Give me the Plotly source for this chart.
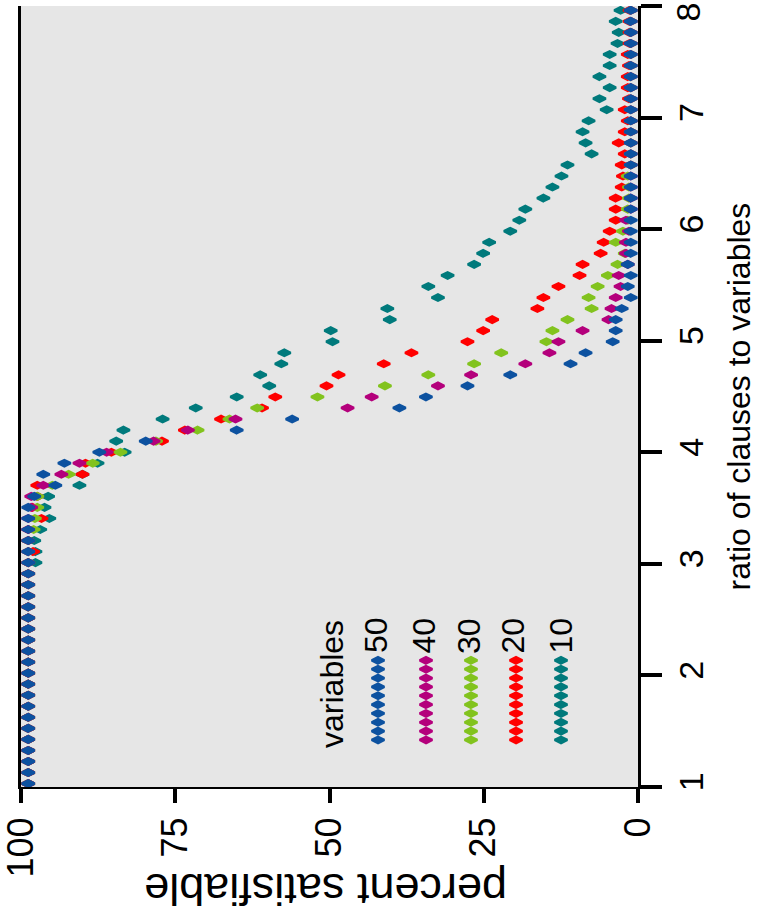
import plotly.graph_objects as go

# clause-to-variable ratio, 1.0 .. 8.0 in steps of 0.1
ratio = [i / 10 for i in range(10, 81)]

# percent of random instances that were satisfiable, one list per problem size
sat_50 = [100, 100, 100, 100, 100, 100, 100, 100, 100, 100,
          100, 100, 100, 100, 100, 100, 100, 100, 100, 100,
          100, 100, 100, 100, 100, 100, 99.0, 95.5, 97.5, 94.0,
          88.2, 80.5, 65.4, 56.2, 38.4, 34.0, 27.1, 20.0, 10.0, 7.5,
          3.0, 2.5, 2.5, 1.5, 0, 0.5, 0, 0.5, 0, 0,
          0, 0, 0, 0, 0, 0, 0, 0, 0, 0,
          0, 0, 0, 0, 0, 0, 0, 0, 0, 0, 0]
sat_40 = [100, 100, 100, 100, 100, 100, 100, 100, 100, 100,
          100, 100, 100, 100, 100, 100, 100, 100, 100, 100,
          100, 100, 100, 100, 100, 99.5, 99.5, 97.5, 94.5, 91.5,
          87.0, 79.2, 73.5, 65.6, 47.0, 43.0, 32.0, 26.5, 17.5, 13.5,
          12.0, 8.0, 3.7, 3.2, 2.5, 1.7, 2.0, 0.5, 0.8, 0.8,
          0.3, 0.8, 0, 0, 0, 0, 0, 0, 0, 0,
          0, 0, 0, 0, 0, 0, 0, 0, 0, 0, 0]
sat_30 = [100, 100, 100, 100, 100, 100, 100, 100, 100, 100,
          100, 100, 100, 100, 100, 100, 100, 100, 100, 100,
          100, 100, 100, 99.1, 98.9, 98.5, 98.5, 96.0, 93.3, 89.3,
          84.7, 78.8, 71.9, 66.6, 62.0, 52.0, 40.8, 33.6, 26.0, 21.5,
          14.0, 13.0, 10.5, 6.5, 7.0, 5.5, 3.8, 2.2, 1.0, 2.5,
          1.3, 0.5, 0.5, 0.3, 0.3, 0.5, 0, 0, 0, 0,
          0, 0, 0, 0, 0, 0, 0, 0, 0, 0, 0]
sat_20 = [100, 100, 100, 100, 100, 100, 100, 100, 100, 100,
          100, 100, 100, 100, 100, 100, 100, 100, 100, 100,
          100, 99.2, 100, 100, 97.8, 99.3, 98.5, 98.5, 91.0, 90.5,
          86.2, 77.8, 74.0, 68.0, 61.2, 59.0, 50.5, 48.5, 41.0, 36.4,
          27.1, 24.5, 23.0, 15.5, 14.5, 12.0, 8.5, 8.0, 5.0, 4.5,
          3.5, 2.5, 2.5, 2.5, 1.5, 1.3, 1.5, 1.0, 2.0, 1.0,
          0.5, 1.0, 0.3, 0.5, 0.5, 0.3, 0.5, 0.2, 0.2, 0.2, 0.2]
sat_10 = [100, 100, 100, 100, 100, 100, 100, 100, 100, 100,
          100, 100, 100, 100, 100, 100, 100, 100, 100, 100,
          98.8, 98.8, 99.0, 98.0, 96.5, 97.3, 96.7, 91.5, 91.0, 88.5,
          84.0, 85.4, 84.2, 77.7, 72.2, 65.4, 60.0, 61.5, 58.0, 57.5,
          49.5, 49.8, 40.0, 40.4, 32.0, 33.6, 30.4, 26.0, 24.5, 23.5,
          20.0, 18.5, 17.5, 14.5, 13.0, 11.5, 10.5, 6.5, 7.5, 8.0,
          7.0, 4.0, 5.2, 3.5, 5.2, 3.5, 3.5, 2.2, 2.0, 2.5, 1.7]

sizes = ["10", "20", "30", "40", "50"]
series = [sat_10, sat_20, sat_30, sat_40, sat_50]
colors = ["#007a7c", "#ff0000", "#82c31e", "#b4007c", "#0d52a0"]

percent_ticks = [0, 25, 50, 75, 100]
ratio_ticks = [1, 2, 3, 4, 5, 6, 7, 8]
# the top tick's label is written separately so it can sit just inside the page
ratio_labels = ["1", "2", "3", "4", "5", "6", "7", ""]
top_ratio_label = "8"

FONT = "Liberation Sans, Arial, sans-serif"

fig = go.Figure()

marker_style = dict(symbol="diamond-wide", size=9)

# data points on the base axes; their ranges are padded a little so the end markers sit inside the frame
for name, vals, col in zip(sizes, series, colors):
    fig.add_trace(go.Scatter(
        x=vals, y=ratio, mode="markers",
        marker=dict(color=col, line=dict(color=col, width=2.5), **marker_style),
        name=name, showlegend=False, hoverinfo="skip"))

# empty trace that registers the labelled frame axes
fig.add_trace(go.Scatter(x=[None], y=[None], xaxis="x2", yaxis="y2",
                         mode="markers", showlegend=False, hoverinfo="skip"))

# key: a short column of markers under each size label (plot-fraction coordinates)
key_x = {"50": 0.5786, "40": 0.6564, "30": 0.7293, "20": 0.8023, "10": 0.8752}
key_y0, key_step, key_n = 0.0602, 0.01133, 10
for name, col in zip(sizes, colors):
    fig.add_trace(go.Scatter(
        x=[key_x[name]] * key_n, y=[key_y0 + k * key_step for k in range(key_n)],
        xaxis="x3", yaxis="y3", mode="markers",
        marker=dict(color=col, line=dict(color=col, width=2.5), **marker_style),
        showlegend=False, hoverinfo="skip"))

annotations = [
    dict(text="variables", x=0.5040, y=0.1319, xref="paper", yref="paper",
         xanchor="center", yanchor="middle",
         textangle=-90, showarrow=False, font=dict(family=FONT, size=32, color="black")),
    dict(text="percent satisfiable", x=0.4927, y=-0.132, xref="paper", yref="paper",
         xanchor="center", yanchor="middle",
         textangle=180, showarrow=False, font=dict(family=FONT, size=45, color="black")),
    dict(text=top_ratio_label, x=1.0826, y=1.0077, xref="paper", yref="paper",
         xanchor="center", yanchor="top",
         textangle=-90, showarrow=False, font=dict(family=FONT, size=34, color="black")),
]
label_x = {"50": 0.5762, "40": 0.6532, "30": 0.7269, "20": 0.7990, "10": 0.8768}
for name in ["50", "40", "30", "20", "10"]:
    annotations.append(dict(text=name, x=label_x[name], y=0.194, xref="paper", yref="paper",
                            xanchor="center", yanchor="middle",
                            textangle=-90, showarrow=False,
                            font=dict(family=FONT, size=32, color="black")))

hidden = dict(showticklabels=False, ticks="", showline=False, showgrid=False,
              zeroline=False, automargin=False)

fig.update_layout(
    width=760, height=924,
    margin=dict(l=21, r=122, t=6, b=137, autoexpand=False),
    paper_bgcolor="white", plot_bgcolor="#e6e6e6",
    showlegend=False,
    annotations=annotations,
    xaxis=dict(range=[101.2, -1.2], **hidden),
    yaxis=dict(range=[0.969, 8.039], **hidden),
    xaxis2=dict(overlaying="x", anchor="y2", range=[100, 0], tickvals=percent_ticks,
                ticktext=[str(v) for v in percent_ticks],
                ticks="outside", ticklen=14, tickwidth=3.5, tickcolor="black",
                tickangle=-90, tickfont=dict(family=FONT, size=36, color="black"),
                ticklabeloverflow="allow", automargin=False,
                showline=True, linewidth=2, linecolor="black", mirror=False,
                showgrid=False, zeroline=False),
    yaxis2=dict(overlaying="y", anchor="x2", range=[1, 8], tickvals=ratio_ticks,
                ticktext=ratio_labels, side="right",
                ticks="outside", ticklen=21, tickwidth=3.5, tickcolor="black",
                tickangle=-90, tickfont=dict(family=FONT, size=34, color="black"),
                ticklabeloverflow="allow", automargin=False,
                showline=True, linewidth=3, linecolor="black", mirror=True,
                showgrid=False, zeroline=False,
                title=dict(text="ratio of clauses to variables",
                           font=dict(family=FONT, size=32, color="black"), standoff=19)),
    xaxis3=dict(overlaying="x", anchor="y3", range=[0, 1], visible=False),
    yaxis3=dict(overlaying="y", anchor="x3", range=[0, 1], visible=False),
)

fig.write_html("out.html")
